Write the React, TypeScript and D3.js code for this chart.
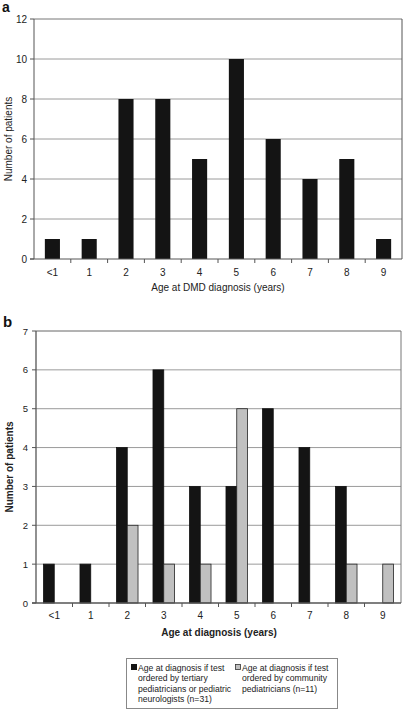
import React from "react";
import * as d3 from "d3";

const categories = ["<1", "1", "2", "3", "4", "5", "6", "7", "8", "9"];
const countsA = [1, 1, 8, 8, 5, 10, 6, 4, 5, 1];
const tertiaryB = [1, 1, 4, 6, 3, 3, 5, 4, 3, 0];
const communityB = [0, 0, 2, 1, 1, 5, 0, 0, 1, 1];
const ticksA = [0, 2, 4, 6, 8, 10, 12];
const ticksB = [0, 1, 2, 3, 4, 5, 6, 7];
const legendA = ["Age at diagnosis if test", "ordered by tertiary", "pediatricians or pediatric", "neurologists (n=31)"];
const legendB = ["Age at diagnosis if test", "ordered by community", "pediatricians (n=11)"];

const FONT = "'Liberation Sans', Arial, sans-serif";
const GRID = "#9a9a9a";
const AXIS = "#555";
const TXT = "#222";

export default function App() {
  // Chart A
  const xA = d3.scaleBand<string>().domain(categories).range([34, 402]);
  const yA = d3.scaleLinear().domain([0, 12]).range([259, 19]);
  const bwA = xA.bandwidth() * 0.41;

  // Chart B
  const xB = d3.scaleBand<string>().domain(categories).range([36, 401]);
  const yB = d3.scaleLinear().domain([0, 7]).range([603, 331]);
  const bwB = xB.bandwidth() * 0.295;

  return (
    <svg width={403} height={710} style={{ position: "absolute", left: 0, top: 0, background: "#fff" }} fontFamily={FONT}>
      <rect x={0} y={0} width={403} height={710} fill="#fff" />
      {/* ---------- Chart A ---------- */}
      <text x={2} y={12} fontSize={14} fontWeight="bold" fill="#111">a</text>
      {ticksA.map((t) => (
        <g key={"ga" + t}>
          {t > 0 && (
            <line x1={34} x2={402} y1={yA(t)} y2={yA(t)} stroke={t === 12 ? "#777" : GRID} strokeWidth={1} />
          )}
          <line x1={30} x2={34} y1={yA(t)} y2={yA(t)} stroke={AXIS} />
          <text x={27} y={yA(t) + 3.5} fontSize={10} textAnchor="end" fill={TXT}>{t}</text>
        </g>
      ))}
      <line x1={402} x2={402} y1={19} y2={259} stroke="#555" strokeWidth={1} />
      {categories.map((c, i) => (
        <g key={"ba" + c}>
          <rect
            x={xA(c)! + xA.bandwidth() / 2 - bwA / 2}
            y={yA(countsA[i])}
            width={bwA}
            height={yA(0) - yA(countsA[i])}
            fill="#141414"
          />
          <text x={xA(c)! + xA.bandwidth() / 2} y={276} fontSize={10} textAnchor="middle" fill={TXT}>{c}</text>
          {i > 0 && <line x1={xA(c)!} x2={xA(c)!} y1={259} y2={263} stroke={AXIS} />}
        </g>
      ))}
      <line x1={34} x2={34} y1={19} y2={259} stroke={AXIS} />
      <line x1={30} x2={402} y1={259} y2={259} stroke={AXIS} />
      <text x={218} y={291} fontSize={10} textAnchor="middle" fill={TXT}>Age at DMD diagnosis (years)</text>
      <text transform="translate(12,139) rotate(-90)" fontSize={10} textAnchor="middle" fill={TXT}>Number of patients</text>

      {/* ---------- Chart B ---------- */}
      <text x={3} y={327} fontSize={15} fontWeight="bold" fill="#111">b</text>
      {ticksB.map((t) => (
        <g key={"gb" + t}>
          {t > 0 && (
            <line x1={36} x2={401} y1={yB(t)} y2={yB(t)} stroke={t === 7 ? "#666" : GRID} strokeWidth={1} />
          )}
          <line x1={32} x2={36} y1={yB(t)} y2={yB(t)} stroke={AXIS} />
          <text x={28} y={yB(t) + 3.5} fontSize={9.5} textAnchor="end" fill={TXT}>{t}</text>
        </g>
      ))}
      <line x1={401} x2={401} y1={331} y2={603} stroke="#777" strokeWidth={1} />
      {categories.map((c, i) => {
        const cx = xB(c)! + xB.bandwidth() / 2;
        return (
          <g key={"bb" + c}>
            {tertiaryB[i] > 0 && (
              <rect
                x={cx - bwB}
                y={yB(tertiaryB[i])}
                width={bwB}
                height={yB(0) - yB(tertiaryB[i])}
                fill="#141414"
                stroke="#111"
                strokeWidth={0.8}
              />
            )}
            {communityB[i] > 0 && (
              <rect
                x={cx}
                y={yB(communityB[i])}
                width={bwB}
                height={yB(0) - yB(communityB[i])}
                fill="#c0c0c0"
                stroke="#222"
                strokeWidth={0.8}
              />
            )}
            <text x={cx} y={619} fontSize={10} textAnchor="middle" fill={TXT}>{c}</text>
            {i > 0 && <line x1={xB(c)!} x2={xB(c)!} y1={603} y2={607} stroke={AXIS} />}
          </g>
        );
      })}
      <line x1={36} x2={36} y1={331} y2={603} stroke={AXIS} strokeWidth={1.3} />
      <line x1={32} x2={401} y1={603} y2={603} stroke={AXIS} strokeWidth={1.3} />
      <text x={219} y={636} fontSize={10} fontWeight="bold" textAnchor="middle" fill={TXT}>Age at diagnosis (years)</text>
      <text transform="translate(13,467) rotate(-90)" fontSize={10} fontWeight="bold" textAnchor="middle" fill={TXT}>Number of patients</text>

      {/* Legend */}
      <rect x={126.5} y={658.5} width={211} height={50} fill="#fff" stroke="#888" strokeWidth={1} />
      <rect x={131} y={664} width={6} height={6} fill="#141414" />
      {legendA.map((l, i) => (
        <text key={"la" + i} x={138} y={671 + i * 10.4} fontSize={8.6} fill={TXT}>{l}</text>
      ))}
      <rect x={235.5} y={664.5} width={5} height={5} fill="#c0c0c0" stroke="#333" strokeWidth={0.8} />
      {legendB.map((l, i) => (
        <text key={"lb" + i} x={242} y={671 + i * 10.4} fontSize={8.6} fill={TXT}>{l}</text>
      ))}
    </svg>
  );
}
